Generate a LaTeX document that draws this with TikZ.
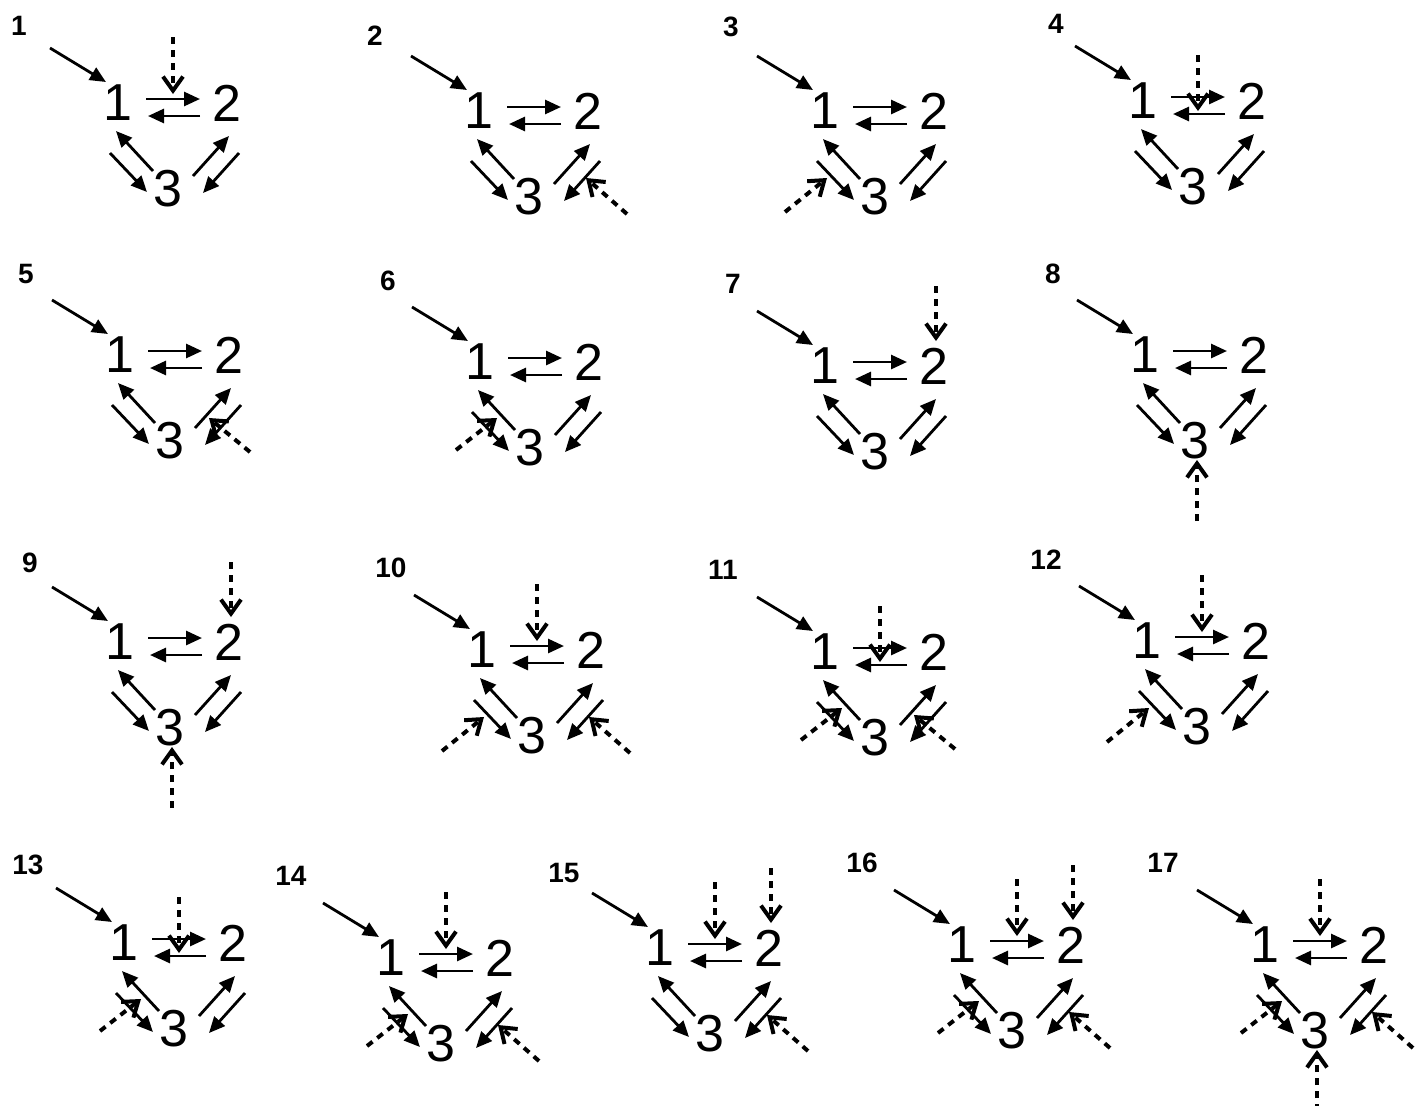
\documentclass[tikz,border=0pt]{standalone}
\usepackage{fontspec}
\setmainfont{Liberation Sans}
\usetikzlibrary{arrows.meta}
\begin{document}
\begin{tikzpicture}[x=0.5pt, y=-0.5pt,
    flow/.style={line width=1.4pt, -{Triangle[length=8pt,width=7pt]}},
    mod/.style={line width=2pt, dash pattern=on 3.5pt off 3pt,
        -{Straight Barb[length=7pt,width=10pt,line width=2pt]}},
    species/.style={inner sep=0pt, font=\fontsize{26}{26}\selectfont},
    tag/.style={inner sep=0pt, font=\fontsize{14}{14}\selectfont\bfseries}]
    \useasboundingbox (0,0) rectangle (1421,1105);

    % Panels: number / species 1 / number position / modulated steps
    \foreach \k/\x/\y/\lx/\ly/\mods in {
        1/118/103/19/26/{top},
        2/479/111/375/36/{rout},
        3/825/111/731/27/{lout},
        4/1143/101/1056/24/{bot},
        5/120/355/26/274/{rin},
        6/480/362/388/281/{lin},
        7/825/366/733/284/{nt},
        8/1145/355/1053/274/{nb},
        9/120/642/30/563/{nt,nb},
        10/482/650/391/568/{top,lout,rout},
        11/825/652/723/570/{bot,lin,rin},
        12/1147/641/1046/560/{top,lout},
        13/124/943/28/865/{bot,lin},
        14/391/958/291/876/{top,lin,rout},
        15/660/948/564/873/{top,nt,rout},
        16/962/945/862/863/{top,nt,lin,rout},
        17/1265/945/1163/863/{top,lin,rout,nb}}{
        \node[tag] (p\k-lab) at (\lx,\ly) {\k};
        \begin{scope}[shift={(\x,\y)}, name prefix=p\k-]
            % Species
            \node[species] (n1) at (0,0) {1};
            \node[species] (n2) at (109,0) {2};
            \node[species] (n3) at (50,86) {3};

            % Input
            \coordinate (in) at (-68,-55);
            \draw[flow] (in) -- ([shift={(-12,-21)}]n1.center);

            % 1 <-> 2
            \draw[flow] ([shift={(28,-4)}]n1.center) -- ([shift={(-27,-4)}]n2.center);
            \draw[flow] ([shift={(-27,13)}]n2.center) -- ([shift={(30,13)}]n1.center);
            % 1 <-> 3
            \draw[flow] ([shift={(-15,-18)}]n3.center) -- ([shift={(-2,28)}]n1.center);
            \draw[flow] ([shift={(-8,50)}]n1.center) -- ([shift={(-21,3)}]n3.center);
            % 2 <-> 3
            \draw[flow] ([shift={(25,-13)}]n3.center) -- ([shift={(2,33)}]n2.center);
            \draw[flow] ([shift={(12,50)}]n2.center) -- ([shift={(35,4)}]n3.center);

            % Modulation points
            \coordinate (top-a) at (55,-66);   \coordinate (top-b) at (55,-9);
            \coordinate (bot-a) at (55,-46);   \coordinate (bot-b) at (55,10);
            \coordinate (lout-a) at (-40,101); \coordinate (lout-b) at (2,67);
            \coordinate (lin-a) at (-24,88);   \coordinate (lin-b) at (17,56);
            \coordinate (rout-a) at (148,103); \coordinate (rout-b) at (107,67);
            \coordinate (rin-a) at (130,97);   \coordinate (rin-b) at (89,63);
            \coordinate (nt-a) at (111,-80);   \coordinate (nt-b) at (111,-25);
            \coordinate (nb-a) at (52,166);    \coordinate (nb-b) at (52,105);

            \foreach \m in \mods {
                \draw[mod] (\m-a) -- (\m-b);
            }
        \end{scope}
    }
\end{tikzpicture}
\end{document}
